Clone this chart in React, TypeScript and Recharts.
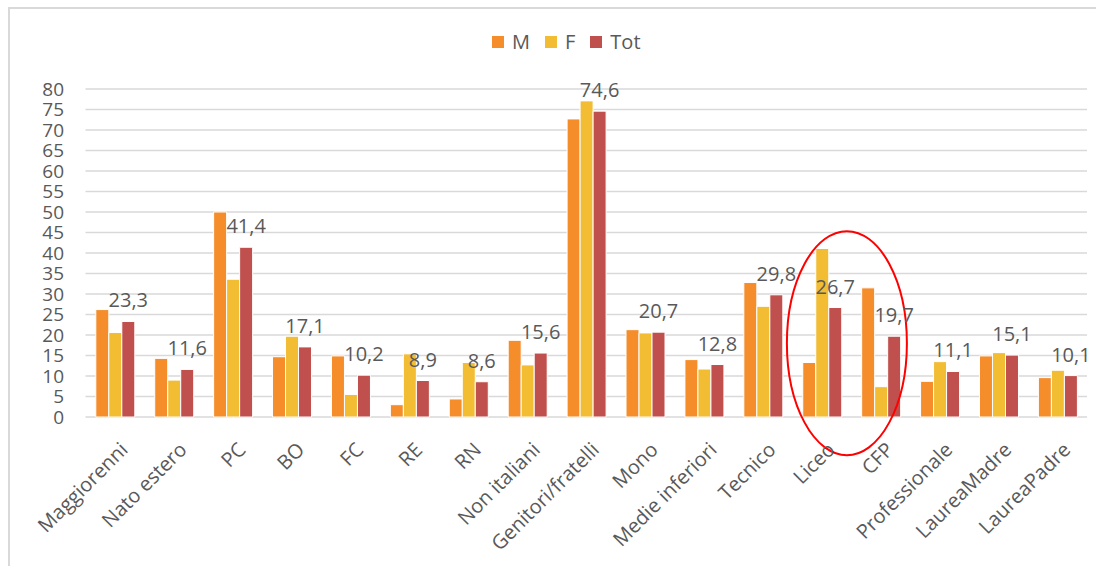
import React from 'react';
import {
  BarChart,
  Bar,
  XAxis,
  YAxis,
  CartesianGrid,
  Legend,
  LabelList,
  ReferenceDot,
} from 'recharts';

const CATEGORIES = [
  'Maggiorenni', 'Nato estero', 'PC', 'BO', 'FC', 'RE', 'RN', 'Non italiani',
  'Genitori/fratelli', 'Mono', 'Medie inferiori', 'Tecnico', 'Liceo', 'CFP',
  'Professionale', 'LaureaMadre', 'LaureaPadre',
];
const M_VALUES = [26.2, 14.3, 50.0, 14.7, 14.9, 3.0, 4.4, 18.7, 72.7, 21.3, 14.0, 32.8, 13.3, 31.5, 8.7, 14.9, 9.6];
const F_VALUES = [20.6, 9.0, 33.6, 19.7, 5.5, 15.4, 13.3, 12.7, 77.1, 20.5, 11.7, 27.0, 41.1, 7.4, 13.5, 15.7, 11.4];
const TOT_VALUES = [23.3, 11.6, 41.4, 17.1, 10.2, 8.9, 8.6, 15.6, 74.6, 20.7, 12.8, 29.8, 26.7, 19.7, 11.1, 15.1, 10.1];
const Y_TICKS = [0, 5, 10, 15, 20, 25, 30, 35, 40, 45, 50, 55, 60, 65, 70, 75, 80];

const SERIES = [
  { key: 'M', name: 'M', color: '#F58D2B' },
  { key: 'F', name: 'F', color: '#F2BC33' },
  { key: 'Tot', name: 'Tot', color: '#C0504D' },
];

const data = CATEGORIES.map((name, i) => ({
  name,
  M: M_VALUES[i],
  F: F_VALUES[i],
  Tot: TOT_VALUES[i],
}));

const FONT = '"Open Sans", "Liberation Sans", sans-serif';
const TEXT = '#595959';

// category labels rotated like the excel ones
const AngledTick = (props: any) => {
  const { x, y, payload } = props;
  return (
    <g transform={`translate(${x + 4},${y})`}>
      <text
        transform="rotate(-45)"
        textAnchor="end"
        dy="0.71em"
        fill={TEXT}
        fontSize={20}
        fontFamily={FONT}
      >
        {payload.value}
      </text>
    </g>
  );
};

const renderLegend = () => (
  <div style={{ display: 'flex', alignItems: 'center', fontFamily: FONT, fontSize: 20, color: TEXT, lineHeight: 1 }}>
    {SERIES.map((s) => (
      <span key={s.key} style={{ display: 'flex', alignItems: 'center', marginRight: 15 }}>
        <span style={{ width: 12, height: 12, background: s.color, marginRight: 8, display: 'inline-block' }} />
        {s.name}
      </span>
    ))}
  </div>
);

const Highlight = (props: any) => (
  <ellipse
    cx={props.cx + 25}
    cy={props.cy}
    rx={60}
    ry={112}
    fill="none"
    stroke="#FF0000"
    strokeWidth={2}
  />
);

export default function App() {
  return (
    <div style={{ position: 'fixed', left: 0, top: 0, width: 1096, height: 566, overflow: 'hidden', background: '#fff' }}>
      <div
        style={{
          position: 'absolute',
          left: 8,
          top: 7,
          width: 1200,
          height: 700,
          border: '2px solid #d9d9d9',
        }}
      />
      <div style={{ position: 'absolute', left: 0, top: 0 }}>
        <BarChart
          width={1096}
          height={566}
          data={data}
          margin={{ top: 89, right: 9, bottom: 19, left: 5.5 }}
          barCategoryGap="17.5%"
          barGap={0}
        >
          <CartesianGrid vertical={false} stroke="#d9d9d9" strokeWidth={1.5} />
          <XAxis
            dataKey="name"
            interval={0}
            height={130}
            axisLine={false}
            tickLine={false}
            tickMargin={18}
            tick={<AngledTick />}
          />
          <YAxis
            width={80}
            domain={[0, 80]}
            ticks={Y_TICKS}
            interval={0}
            axisLine={false}
            tickLine={false}
            tickMargin={15.5}
            tick={{ fill: TEXT, fontSize: 19, fontFamily: FONT }}
          />
          <Legend
            verticalAlign="middle"
            content={renderLegend}
            wrapperStyle={{ left: 492, top: 32, width: 'auto' }}
          />
          {SERIES.map((s) => (
            <Bar
              key={s.key}
              dataKey={s.key}
              name={s.name}
              fill={s.color}
              stroke="#ffffff"
              strokeWidth={1}
              isAnimationActive={false}
            >
              {s.key === 'Tot' && (
                <LabelList
                  dataKey="Tot"
                  position="top"
                  offset={14}
                  fill={TEXT}
                  fontSize={20}
                  fontFamily={FONT}
                  formatter={(v: any) => Number(v).toFixed(1).replace('.', ',')}
                />
              )}
            </Bar>
          ))}
          <ReferenceDot x="Liceo" y={18} r={0} ifOverflow="visible" shape={<Highlight />} />
        </BarChart>
      </div>
    </div>
  );
}
